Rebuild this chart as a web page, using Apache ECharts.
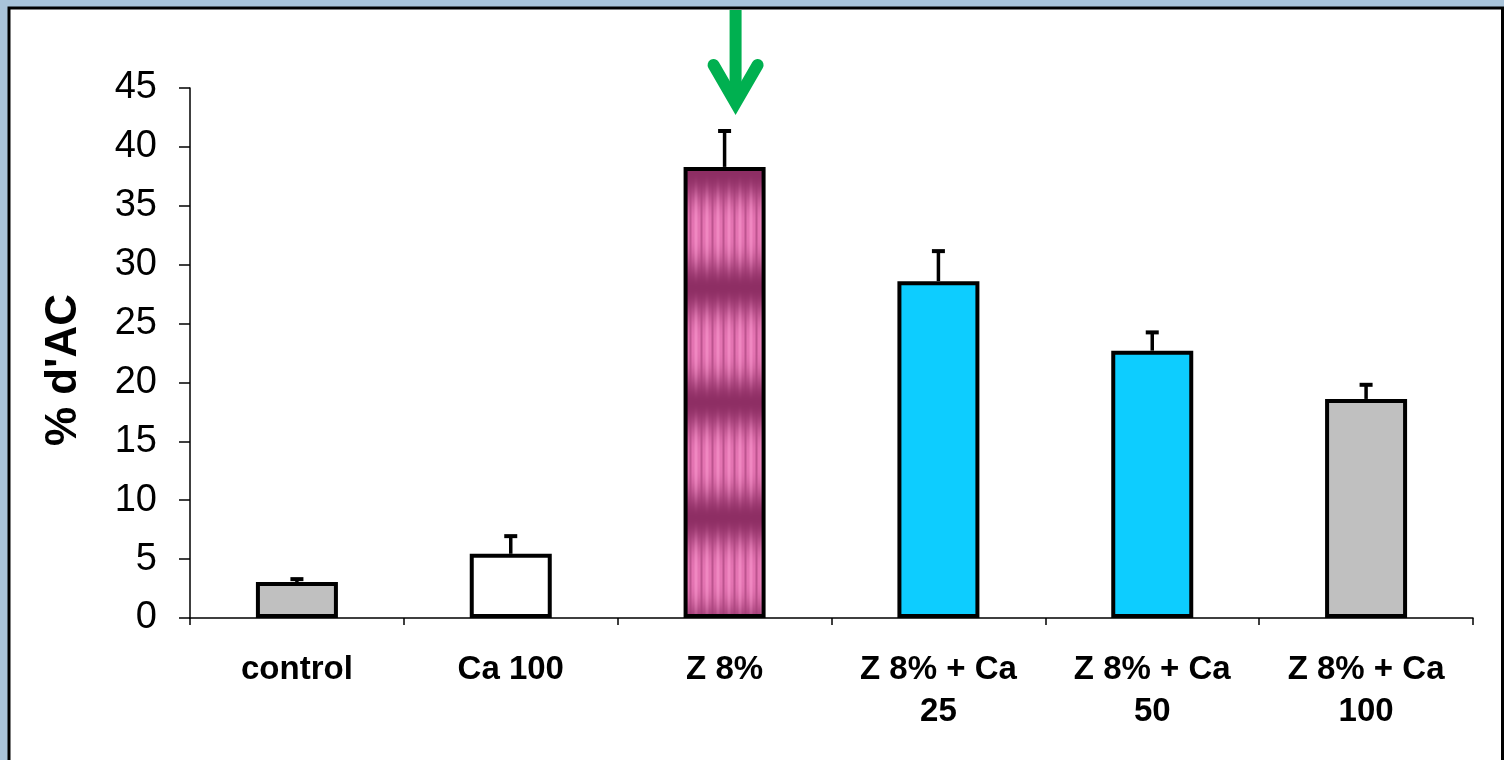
<!DOCTYPE html>
<html>
<head>
<meta charset="utf-8">
<script src="https://cdn.jsdelivr.net/npm/echarts@6/dist/echarts.min.js"></script>
<style>
html,body{margin:0;padding:0;background:#a9c4da;}
#chart{width:1504px;height:760px;}
</style>
</head>
<body>
<div id="chart"></div>
<script>
// ---- data ----
const categories = ['control', 'Ca 100', 'Z 8%', 'Z 8% + Ca\n25', 'Z 8% + Ca\n50', 'Z 8% + Ca\n100'];
const means = [3.05, 5.45, 38.3, 28.6, 22.7, 18.6];
const errors = [0.25, 1.5, 3.05, 2.55, 1.55, 1.2];
const yTicks = [0, 5, 10, 15, 20, 25, 30, 35, 40, 45];
const yTitle = "% d'AC";
const highlightIndex = 2;

// ---- striped pink pattern for Z 8% bar ----
function makePattern() {
  const w = 11, h = 115;
  const c = document.createElement('canvas');
  c.width = w; c.height = h;
  const ctx = c.getContext('2d');
  const img = ctx.createImageData(w, h);
  const light = [228, 116, 178], dark = [142, 46, 100], bright = [252, 155, 208];
  for (let y = 0; y < h; y++) {
    let b = 0.5 + 0.5 * Math.cos(2 * Math.PI * (y - 57) / h);
    b = Math.pow(b, 1.5);
    for (let x = 0; x < w; x++) {
      let d = Math.abs(x + 0.5 - 8.5); d = Math.min(d, w - d);
      const s = Math.max(0, 1 - d / 2.0);
      const hl = Math.max(0, 1 - Math.abs(d - 5.5) / 2.4);
      let col = [0, 1, 2].map(i => light[i] + (dark[i] - light[i]) * b);
      const sd = 0.45 * s * (1 - 0.7 * b);
      col = col.map((v, i) => v + (dark[i] - v) * sd);
      const sh = 0.65 * hl * (1 - b);
      col = col.map((v, i) => v + (bright[i] - v) * sh);
      const k = (y * w + x) * 4;
      img.data[k] = col[0]; img.data[k + 1] = col[1]; img.data[k + 2] = col[2]; img.data[k + 3] = 255;
    }
  }
  ctx.putImageData(img, 0, 0);
  return c;
}
const fills = ['#c0c0c0', '#ffffff', { image: makePattern(), repeat: 'repeat' }, '#0dcdff', '#0dcdff', '#c0c0c0'];

const chart = echarts.init(document.getElementById('chart'), null, { renderer: 'canvas' });

const option = {
  backgroundColor: '#a9c4da',
  animation: false,
  grid: { left: 190, right: 31, top: 88, bottom: 142 },
  graphic: [{
    type: 'rect', z: -100, silent: true,
    shape: { x: 9, y: 8, width: 1493.5, height: 800 },
    style: { fill: '#ffffff', stroke: '#000000', lineWidth: 3 }
  }],
  xAxis: {
    type: 'category',
    data: categories,
    axisLine: { lineStyle: { color: '#000', width: 1.5 } },
    axisTick: { show: true, length: 7, lineStyle: { color: '#000', width: 1.5 } },
    axisLabel: {
      color: '#000', fontFamily: 'Liberation Sans, Arial, sans-serif', fontWeight: 'bold',
      fontSize: 33, lineHeight: 42, margin: 31, interval: 0
    },
    splitLine: { show: false }
  },
  yAxis: {
    type: 'value', min: yTicks[0], max: yTicks[yTicks.length - 1], interval: 5,
    name: yTitle, nameLocation: 'middle', nameGap: 104, nameRotate: 90,
    nameTextStyle: { color: '#000', fontFamily: 'Liberation Sans, Arial, sans-serif', fontWeight: 'bold', fontSize: 44, padding: [0, 34, 0, 0] },
    axisLine: { show: true, lineStyle: { color: '#000', width: 1.5 } },
    axisTick: { show: true, length: 11, lineStyle: { color: '#000', width: 1.5 } },
    axisLabel: { color: '#000', fontFamily: 'Liberation Sans, Arial, sans-serif', fontSize: 38, margin: 33 },
    splitLine: { show: false }
  },
  series: [
    {
      type: 'bar',
      barWidth: 82,
      data: means.map((v, i) => ({ value: v, itemStyle: { color: fills[i], borderColor: '#000', borderWidth: 4 } })),
      z: 2
    },
    {
      type: 'custom',
      z: 3,
      data: means.map((v, i) => [i, v, errors[i]]),
      renderItem: function (params, api) {
        const i = api.value(0), v = api.value(1), e = api.value(2);
        const p0 = api.coord([i, v]);
        const p1 = api.coord([i, v + e]);
        return {
          type: 'group',
          children: [
            { type: 'line', shape: { x1: p0[0], y1: p0[1], x2: p1[0], y2: p1[1] }, style: { stroke: '#000', lineWidth: 3.5 } },
            { type: 'line', shape: { x1: p1[0] - 6.5, y1: p1[1], x2: p1[0] + 6.5, y2: p1[1] }, style: { stroke: '#000', lineWidth: 4 } }
          ]
        };
      }
    }
  ]
};
chart.setOption(option);

// green arrow pointing at the highlighted bar
const cx = chart.convertToPixel({ xAxisIndex: 0 }, categories[highlightIndex]) + 11;
chart.setOption({
  graphic: [
    option.graphic[0],
    {
      type: 'group', z: 50, silent: true,
      children: [
        { type: 'rect', shape: { x: cx - 6, y: 10, width: 12, height: 92 }, style: { fill: '#00b050' } },
        { type: 'polyline', shape: { points: [[cx - 22, 65], [cx, 103], [cx + 22, 65]] },
          style: { stroke: '#00b050', lineWidth: 12, lineCap: 'round', lineJoin: 'miter', fill: null } }
      ]
    }
  ]
});
</script>
</body>
</html>
